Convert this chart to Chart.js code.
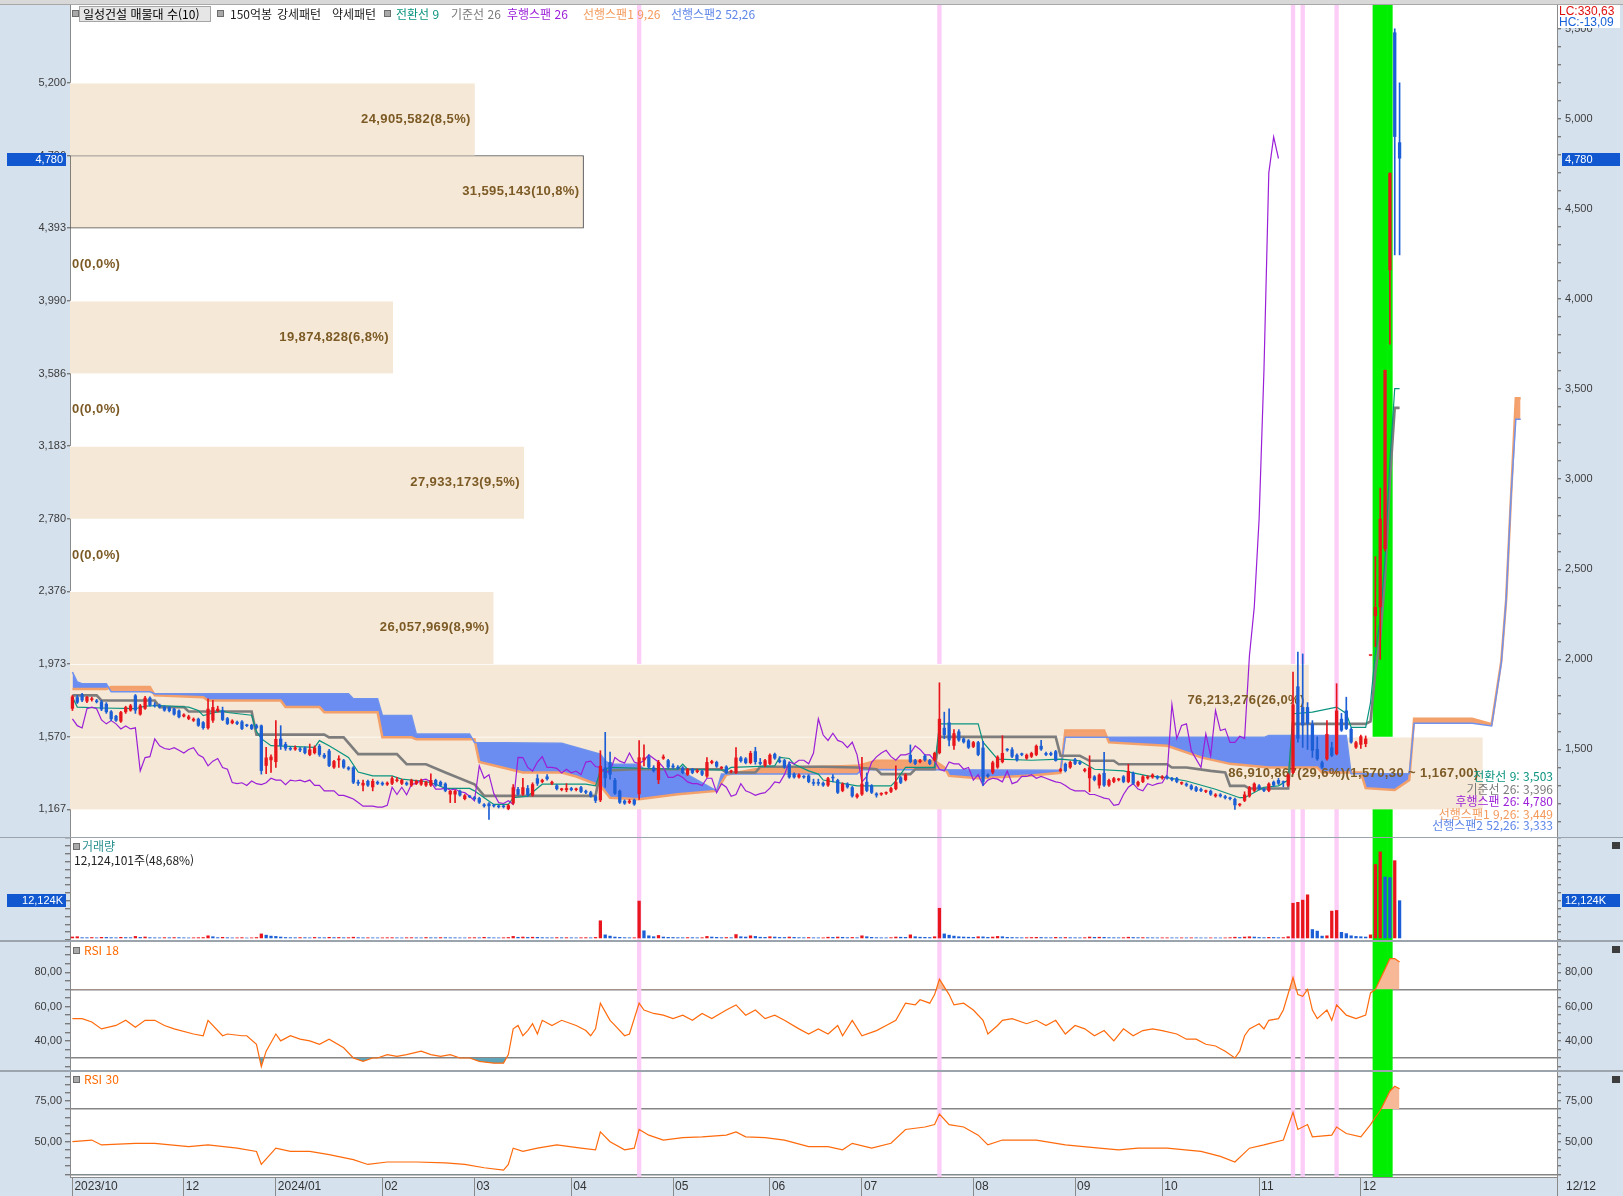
<!DOCTYPE html>
<html lang="ko">
<head>
<meta charset="utf-8">
<title>일성건설 매물대 · 일목균형표</title>
<script src="https://cdn.jsdelivr.net/npm/chart.js@4.4.1/dist/chart.umd.min.js"></script>
<style>
  html, body { margin: 0; padding: 0; overflow: hidden; background: #9ba3ac; }
  #wrap { position: relative; width: 1623px; height: 1196px; background: #9ba3ac; }
  #wrap canvas { position: absolute; left: 0; background: #d6e1ee; }
  .t { position: absolute; white-space: nowrap; font: 12px 'Noto Sans CJK KR', 'Noto Sans', sans-serif; line-height: 14px; }
  .mk { position: absolute; width: 5px; height: 5px; background: #a9a9a9; border: 1px solid #6d6d6d; }
  .ico { position: absolute; width: 8px; height: 7px; background: #3d3d3d; }
  .num { font-family: 'Liberation Sans', Arial, sans-serif; }
</style>
</head>
<body>
<div id="wrap">
  <div style="position:absolute;left:0;top:0;width:1623px;height:4px;background:#d8d8d8;border-bottom:1px solid #a8a8a8"></div>
  <canvas id="cMain" width="1623" height="832" style="top:5px"></canvas>
  <canvas id="cVol" width="1623" height="102" style="top:838px"></canvas>
  <canvas id="cRsi18" width="1623" height="128" style="top:942px"></canvas>
  <canvas id="cRsi30" width="1623" height="124" style="top:1072px"></canvas>

  <!-- top legend -->
  <div class="mk" style="left:72px;top:10px"></div>
  <div class="t" style="left:79px;top:6px;width:127px;height:14px;padding-left:3px;background:#e6e6e6;border:1px solid #a5a5a5">일성건설 매물대 수(10)</div>
  <div class="mk" style="left:217px;top:10px"></div>
  <div class="t" style="left:230px;top:7px;color:#222">150억봉</div>
  <div class="t" style="left:277px;top:7px;color:#222">강세패턴</div>
  <div class="t" style="left:332px;top:7px;color:#222">약세패턴</div>
  <div class="mk" style="left:384px;top:10px"></div>
  <div class="t" style="left:396px;top:7px;color:#0a9480">전환선 9</div>
  <div class="t" style="left:451px;top:7px;color:#7a7a7a">기준선 26</div>
  <div class="t" style="left:507px;top:7px;color:#9b1fd8">후행스팬 26</div>
  <div class="t" style="left:583px;top:7px;color:#f39a5c">선행스팬1 9,26</div>
  <div class="t" style="left:671px;top:7px;color:#5e86e8">선행스팬2 52,26</div>

  <div style="position:absolute;left:1558px;top:5px;width:62px;height:23px;background:#fff"></div>
  <div class="t num" style="left:1559px;top:5px;color:#e01010;line-height:12px">LC:330,63</div>
  <div class="t num" style="left:1559px;top:16px;color:#1560d8;line-height:12px">HC:-13,09</div>

  <!-- ichimoku values, bottom right of price pane -->
  <div class="t" id="lbConv" style="right:70px;top:769px;color:#0a9480;text-align:right"></div>
  <div class="t" id="lbBase" style="right:70px;top:782px;color:#7a7a7a;text-align:right"></div>
  <div class="t" id="lbLag" style="right:70px;top:794px;color:#9b1fd8;text-align:right"></div>
  <div class="t" id="lbSpan1" style="right:70px;top:807px;color:#f39a5c;text-align:right"></div>
  <div class="t" id="lbSpan2" style="right:70px;top:818px;color:#5e86e8;text-align:right"></div>

  <!-- sub pane titles -->
  <div class="mk" style="left:73px;top:843px"></div>
  <div class="t" style="left:82px;top:839px;color:#2b9090">거래량</div>
  <div class="t" style="left:74px;top:853px;color:#222">12,124,101주(48,68%)</div>
  <div class="mk" style="left:73px;top:947px"></div>
  <div class="t" style="left:84px;top:943px;color:#ff6a00">RSI 18</div>
  <div class="mk" style="left:73px;top:1076px"></div>
  <div class="t" style="left:84px;top:1072px;color:#ff6a00">RSI 30</div>

  <div class="ico" style="left:1612px;top:842px"></div>
  <div class="ico" style="left:1612px;top:946px"></div>
  <div class="ico" style="left:1612px;top:1076px"></div>

  <div style="position:absolute;left:1557px;top:1177px;width:1px;height:19px;background:#8a8a8a"></div>
  <div class="t num" style="left:1566px;top:1179px;color:#333">12/12</div>
</div>

<script>
'use strict';

// ---- categories / ticks -------------------------------------------------
const SLOTS = 307;   // 275 trading days + 32 slots of forward space
const monthIdx = [0, 23, 42, 64, 83, 103, 124, 144, 163, 186, 207, 225, 245, 266];
const monthLabels = ['2023/10', '12', '2024/01', '02', '03', '04', '05', '06', '07', '08', '09', '10', '11', '12'];

// ---- daily candles ------------------------------------------------------
const open = [
  1726,1790,1806,1766,1775,1772,1766,1753,1711,1686, 1655,1707,1716,1800,1694,1726,1787,1746,1748,1738,
  1735,1726,1716,1683,1670,1660,1670,1651,1618,1660, 1713,1716,1673,1646,1653,1655,1636,1636,1633,1633,
  1409,1440,1430,1560,1530,1505,1500,1505,1510,1470, 1480,1520,1470,1493,1400,1440,1440,1400,1400,1320,
  1300,1325,1290,1320,1315,1305,1310,1325,1310,1315, 1300,1310,1305,1300,1300,1330,1320,1310,1250,1250,
  1270,1225,1240,1235,1230,1195,1200,1190,1185,1185, 1170,1200,1280,1250,1285,1245,1340,1320,1350,1310,
  1300,1275,1275,1285,1275,1290,1270,1262,1240,1218, 1400,1430,1330,1270,1215,1205,1220,1251,1440,1460,
  1400,1330,1450,1440,1410,1400,1400,1360,1390,1375, 1380,1350,1425,1430,1395,1405,1375,1370,1455,1450,
  1425,1490,1430,1410,1420,1475,1440,1440,1420,1365, 1345,1350,1355,1315,1315,1315,1300,1345,1330,1270,
  1310,1290,1235,1250,1320,1300,1255,1250,1255,1265, 1280,1345,1330,1470,1440,1430,1465,1440,1440,1480,
  1620,1650,1520,1600,1560,1550,1515,1540,1510,1360, 1372,1400,1430,1500,1500,1470,1475,1450,1460,1470,
  1520,1480,1480,1490,1380,1420,1400,1445,1430,1380, 1340,1350,1300,1370,1300,1320,1330,1350,1320,1370,
  1300,1320,1340,1345,1350,1340,1350,1340,1340,1310, 1310,1300,1290,1280,1265,1270,1240,1250,1240,1230,
  1225,1190,1215,1240,1270,1300,1280,1270,1320,1330, 1320,1300,1370,1850,1735,1735,1642,1502,1428,1446,
  1511,1474,1670,1716,1614,1511,1526,1530,2020,2240, 2290,2613,4160,5480,4870
];
const high = [
  1800,1800,1812,1795,1790,1778,1772,1760,1716,1690, 1712,1740,1750,1805,1750,1795,1792,1760,1752,1742,
  1738,1730,1720,1698,1690,1675,1674,1655,1781,1772, 1740,1735,1678,1665,1658,1660,1640,1640,1640,1636,
  1512,1470,1660,1632,1540,1515,1520,1512,1515,1530, 1520,1528,1478,1500,1440,1465,1445,1405,1405,1330,
  1330,1330,1335,1325,1320,1320,1350,1345,1335,1320, 1335,1330,1335,1325,1365,1335,1325,1315,1272,1275,
  1275,1250,1245,1240,1235,1200,1205,1195,1190,1190, 1195,1305,1290,1340,1300,1315,1360,1335,1360,1325,
  1305,1285,1310,1290,1285,1295,1275,1268,1245,1493, 1595,1485,1340,1275,1220,1222,1225,1549,1526,1470,
  1410,1440,1470,1445,1420,1410,1405,1395,1395,1390, 1385,1455,1440,1435,1405,1410,1385,1511,1460,1455,
  1490,1512,1450,1445,1475,1480,1460,1445,1430,1370, 1365,1355,1360,1335,1335,1320,1345,1360,1335,1315,
  1315,1295,1255,1456,1370,1305,1260,1260,1265,1290, 1409,1350,1365,1525,1445,1445,1470,1445,1485,1870,
  1707,1725,1610,1610,1565,1555,1545,1545,1545,1365, 1435,1465,1576,1505,1510,1475,1480,1475,1485,1525,
  1550,1485,1485,1495,1395,1425,1435,1450,1435,1395, 1465,1355,1365,1484,1335,1345,1340,1355,1418,1375,
  1325,1355,1355,1365,1355,1355,1355,1345,1345,1320, 1315,1305,1295,1285,1275,1275,1255,1255,1245,1235,
  1230,1200,1265,1295,1315,1305,1285,1315,1325,1340, 1325,1365,1930,2040,2030,1760,1660,1570,1435,1660,
  1540,1865,1700,1790,1620,1545,1580,1575,2020,2570, 2950,3606,4700,5500,5200
];
const low = [
  1716,1755,1765,1760,1768,1758,1715,1700,1660,1655, 1650,1700,1712,1700,1690,1722,1740,1735,1730,1712,
  1708,1690,1675,1680,1665,1655,1628,1612,1612,1650, 1708,1660,1638,1642,1638,1610,1626,1610,1615,1363,
  1366,1372,1400,1500,1495,1495,1495,1488,1475,1465, 1475,1462,1450,1405,1395,1400,1395,1385,1310,1300,
  1270,1295,1270,1305,1300,1300,1305,1320,1305,1300, 1295,1305,1300,1295,1295,1295,1295,1265,1205,1205,
  1240,1220,1232,1220,1200,1180,1111,1180,1175,1175, 1165,1195,1245,1245,1240,1240,1300,1315,1330,1305,
  1275,1270,1265,1270,1270,1260,1255,1235,1205,1210, 1290,1335,1250,1200,1195,1200,1190,1223,1409,1395,
  1375,1310,1445,1395,1395,1390,1365,1355,1365,1370, 1355,1345,1420,1400,1390,1365,1370,1365,1430,1420,
  1420,1418,1415,1405,1415,1445,1425,1395,1340,1340, 1340,1340,1315,1300,1300,1295,1295,1320,1255,1265,
  1285,1235,1230,1245,1265,1255,1235,1245,1250,1260, 1275,1310,1325,1425,1415,1425,1435,1415,1435,1475,
  1560,1520,1500,1545,1535,1505,1510,1465,1300,1345, 1365,1395,1425,1490,1455,1435,1465,1445,1455,1465,
  1495,1465,1465,1435,1375,1375,1395,1415,1415,1375, 1265,1325,1285,1295,1295,1315,1325,1315,1315,1305,
  1295,1315,1335,1340,1335,1335,1335,1325,1315,1305, 1295,1275,1265,1265,1260,1245,1235,1235,1225,1220,
  1167,1185,1210,1235,1265,1275,1265,1265,1295,1305, 1292,1295,1365,1540,1511,1500,1456,1440,1395,1440,
  1460,1470,1600,1610,1535,1506,1506,1515,2020,2070, 2000,2600,3750,4245,4245
];
const close = [
  1794,1760,1772,1791,1781,1763,1722,1707,1668,1660, 1707,1735,1744,1716,1744,1787,1744,1740,1735,1716,
  1713,1694,1679,1694,1683,1670,1632,1619,1726,1735, 1726,1664,1642,1660,1642,1614,1630,1614,1620,1381,
  1455,1460,1558,1520,1505,1500,1510,1495,1480,1500, 1510,1470,1455,1409,1435,1450,1400,1390,1316,1310,
  1315,1300,1325,1310,1305,1315,1340,1330,1330,1305, 1330,1325,1330,1320,1330,1300,1300,1270,1270,1270,
  1245,1245,1235,1225,1205,1185,1185,1185,1180,1180, 1190,1290,1250,1290,1248,1307,1310,1330,1335,1320,
  1280,1280,1285,1275,1280,1265,1260,1240,1215,1409, 1340,1360,1255,1205,1200,1215,1195,1456,1455,1400,
  1380,1430,1460,1400,1400,1395,1370,1390,1370,1380, 1360,1430,1435,1405,1400,1370,1380,1455,1435,1425,
  1480,1430,1420,1440,1470,1450,1430,1400,1345,1345, 1360,1345,1320,1310,1310,1300,1340,1340,1260,1310,
  1290,1240,1250,1310,1270,1260,1245,1255,1260,1285, 1320,1315,1360,1430,1420,1440,1440,1420,1480,1670,
  1580,1550,1590,1550,1540,1510,1540,1470,1320,1350, 1428,1459,1480,1495,1460,1440,1470,1470,1480,1520,
  1500,1470,1470,1437,1390,1380,1430,1420,1420,1390, 1400,1330,1360,1300,1330,1340,1335,1320,1380,1310,
  1320,1350,1350,1360,1340,1350,1340,1330,1320,1315, 1300,1280,1270,1270,1270,1250,1250,1240,1230,1225,
  1190,1195,1250,1290,1310,1280,1270,1310,1300,1310, 1315,1360,1750,1560,1633,1642,1493,1446,1400,1586,
  1465,1716,1605,1614,1539,1539,1573,1560,2020,2290, 2780,3606,4700,4900,4780
];

// volume in thousands of shares
const volumeK = [
  520,610,300,280,350,240,410,380,300,260, 420,330,290,700,380,520,300,260,240,310,
  280,330,300,250,220,260,300,340,900,600, 300,420,280,230,250,310,200,240,350,1500,
  1100,800,700,500,350,300,280,330,300,250, 380,300,280,420,320,360,280,300,450,300,
  260,280,240,230,250,280,300,250,230,280, 300,260,240,350,280,260,330,300,270,260,
  240,230,280,300,260,420,300,250,230,280, 350,700,420,500,380,450,400,300,280,260,
  320,280,300,260,240,280,300,250,380,5700, 1200,800,500,400,300,260,280,12000,2500,900,
  600,1000,500,400,350,300,280,320,300,260, 280,700,500,400,300,350,280,1300,600,500,
  900,700,450,400,600,500,380,350,500,400, 300,280,350,260,240,250,450,400,500,420,
  300,380,280,900,600,400,300,260,250,300, 500,450,400,1200,600,450,400,350,600,9700,
  1500,1100,800,600,500,450,400,600,550,400, 500,700,600,400,350,300,280,300,350,400,
  350,300,280,400,300,350,300,280,260,300, 500,400,450,400,300,280,260,300,450,350,
  300,320,280,260,240,250,260,240,230,250, 240,260,250,230,220,240,230,220,240,300,
  450,350,500,600,500,350,300,400,350,300, 320,600,11300,11600,12300,14000,2900,2400,800,900,
  8800,9000,2000,1600,900,700,600,500,1200,23700, 27700,19700,19500,24906,12124
];

// ---- ichimoku lines, read as [bar, price] vertices ----------------------
const convLine = [[0,1791],[1,1735],[6,1730],[13,1726],[15,1740],[18,1744],[24,1735],[26,1716],[27,1688],[31,1716],
  [32,1705],[37,1690],[38,1600],[39,1560],[41,1521],[50,1512],[51,1549],[53,1520],[57,1456],[59,1375],[62,1353],
  [66,1353],[68,1335],[73,1322],[75,1307],[77,1284],[82,1284],[83,1270],[85,1232],[87,1195],[90,1195],[91,1232],
  [94,1240],[97,1307],[106,1307],[108,1298],[109,1381],[111,1400],[125,1390],[126,1418],[127,1390],[135,1385],
  [136,1400],[145,1409],[146,1456],[148,1450],[149,1418],[152,1381],[154,1363],[155,1330],[162,1298],[169,1298],
  [170,1325],[172,1400],[178,1400],[179,1642],[187,1642],[188,1540],[191,1446],[198,1440],[204,1446],[208,1437],
  [211,1390],[217,1381],[222,1353],[226,1344],[230,1325],[236,1279],[241,1232],[242,1232],[246,1290],[249,1298],
  [251,1330],[252,1698],[256,1707],[261,1735],[263,1700],[264,1623],[267,1623],[268,1760],[269,2038],[270,2225],
  [271,2556],[272,3103],[273,3503],[274,3503]];
const baseLine = [[0,1800],[5,1800],[6,1772],[17,1772],[18,1735],[23,1735],[24,1711],[37,1711],[38,1582],[52,1582],
  [53,1567],[56,1567],[59,1474],[67,1474],[69,1418],[73,1418],[77,1372],[83,1307],[85,1242],[108,1242],[109,1381],
  [116,1390],[134,1390],[135,1372],[141,1372],[142,1404],[155,1404],[162,1400],[166,1390],[167,1363],[173,1363],
  [174,1390],[178,1390],[179,1570],[203,1570],[204,1465],[208,1465],[210,1437],[215,1437],[216,1418],[226,1418],
  [227,1400],[230,1400],[235,1381],[238,1372],[239,1298],[242,1298],[243,1283],[251,1283],[252,1642],[267,1642],
  [268,1656],[269,1931],[270,2121],[271,2449],[272,2996],[273,3396],[274,3396]];
const span1 = [[0,1835],[7,1835],[8,1846],[16,1846],[17,1800],[27,1790],[28,1772],[43,1772],[44,1735],[51,1735],
  [52,1707],[63,1707],[64,1567],[70,1567],[71,1556],[83,1556],[84,1430],[93,1372],[101,1372],[104,1350],[109,1298],
  [111,1232],[117,1223],[125,1251],[133,1270],[135,1360],[141,1390],[150,1400],[162,1409],[166,1437],[178,1437],
  [180,1400],[181,1353],[187,1340],[198,1355],[204,1370],[205,1605],[213,1605],[214,1539],[226,1520],[233,1456],
  [239,1420],[247,1400],[257,1400],[258,1372],[266,1372],[267,1285],[273,1275],[276,1330],[277,1670],[289,1670],
  [293,1640],[295,1990],[296,2330],[297,2900],[298,3449],[299,3449]];
const span2 = [[0,1930],[1,1874],[2,1865],[7,1865],[8,1820],[16,1820],[17,1809],[57,1809],[58,1781],[63,1781],
  [64,1688],[70,1688],[71,1586],[82,1586],[83,1539],[101,1534],[109,1474],[110,1437],[111,1418],[117,1418],
  [118,1390],[125,1390],[133,1270],[134,1363],[162,1363],[163,1388],[204,1385],[205,1567],[246,1567],[247,1577],
  [263,1577],[264,1365],[276,1365],[277,1645],[289,1645],[293,1630],[295,1980],[296,2330],[297,2900],[298,3333],
  [299,3333]];
const LAG = 25;

// ---- volume profile (10 price bands) ------------------------------------
const profileEdges = [1167, 1570.3, 1973.6, 2376.9, 2780.2, 3183.5, 3586.8, 3990.1, 4393.4, 4796.7, 5200];
const profileVol = [86910867, 76213276, 26057969, 0, 27933173, 0, 19874828, 0, 31595143, 24905582];

// ---- signal bars --------------------------------------------------------
const pinkIdx = [117, 179, 252, 254, 261];
const greenIdx = [269, 270, 271, 272];

// ---- RSI, read as [bar, value] ------------------------------------------
const rsi18 = [[0,53],[2,53],[4,51],[6,47],[9,49],[11,52],[13,48],[15,52],[17,52],[19,49],[21,47],[25,44],[27,43],
  [28,52],[31,43],[32,44],[35,43],[36,43],[38,38],[39,25],[40,34],[42,44],[43,40],[45,43],[47,41],[49,40],[51,38],
  [53,41],[56,36],[58,30],[60,28],[62,30],[63,30],[65,32],[67,31],[69,32],[72,34],[74,32],[76,31],[78,32],[80,30],
  [82,30],[84,28],[87,27],[89,27],[90,32],[91,47],[92,49],[93,43],[94,46],[95,50],[96,44],[97,52],[99,49],[101,52],
  [104,49],[106,46],[107,43],[108,47],[109,62],[111,52],[112,49],[114,43],[115,44],[117,62],[118,58],[120,56],
  [122,55],[124,53],[126,55],[128,52],[130,56],[132,53],[135,58],[137,61],[139,55],[141,58],[143,53],[145,55],
  [147,52],[150,47],[152,44],[154,47],[156,44],[158,49],[159,43],[161,52],[163,43],[166,46],[168,49],[170,52],
  [172,62],[174,61],[175,64],[177,62],[178,67],[179,76],[181,67],[182,61],[184,62],[186,58],[188,52],[189,44],
  [191,49],[192,52],[194,53],[197,50],[199,52],[201,49],[203,52],[205,44],[207,49],[209,47],[211,43],[213,46],
  [215,40],[217,47],[219,43],[221,46],[223,47],[225,46],[228,44],[230,41],[232,41],[234,38],[236,37],[238,34],
  [240,30],[241,34],[242,43],[243,47],[245,50],[246,47],[247,52],[249,53],[250,58],[252,77],[253,67],[254,66],
  [255,70],[256,58],[257,53],[259,58],[260,52],[261,61],[262,58],[263,55],[265,53],[267,55],[268,68],[269,70],
  [270,76],[271,82],[272,88],[273,88],[274,86]];
const rsi30 = [[0,50],[4,51],[6,48],[13,49],[17,49],[24,47],[28,48],[34,46],[38,44],[39,36],[42,46],[45,44],[49,44],
  [53,42],[58,39],[61,36],[65,37.5],[71,37.5],[77,37],[81,36],[85,34],[89,32.5],[90,36],[91,46],[93,44],[96,46],
  [100,48],[105,46],[108,45],[109,56],[111,50],[114,45],[116,46],[117,57.5],[119,54],[122,51],[126,52.5],[130,53],
  [135,54],[137,56],[139,53],[143,52.5],[147,51],[152,47],[156,47],[159,45],[161,49],[165,46],[169,49],[172,57.5],
  [176,59],[178,60.5],[179,67],[181,60.5],[184,59],[187,54],[189,48],[192,51],[199,51],[205,48],[212,46],[216,45],
  [220,46],[226,46],[233,44],[237,41],[240,37.5],[243,46],[246,48],[250,51],[252,68],[253,57.5],[255,60.5],[256,53],
  [260,54],[261,59],[263,55],[266,53],[268,60.5],[269,65],[270,69],[271,75],[272,81],[273,84],[274,82.5]];

// ---- styling --------------------------------------------------------------
const RED = '#e8151c', BLUE = '#1b5ed5', PINK = '#fccdf7', GREEN = '#00ee00', BEIGE = '#f5e8d6';
const C_CONV = '#0a9480', C_BASE = '#7d7d7d', C_LAG = '#9b1fd8', C_SPAN1 = '#f4a06a', C_SPAN2 = '#6f92ee';
const AXIS_FONT = "'Liberation Sans', Arial, sans-serif";
Chart.defaults.font.family = AXIS_FONT;
Chart.defaults.font.size = 11;
Chart.defaults.color = '#3b3b3b';

const P_MIN = 1014, P_MAX = 5632;
const V_MIN = -550, V_MAX = 32050;
const R18_MIN = 23, R18_MAX = 97.7;
const R30_MIN = 28.3, R30_MAX = 92.8;
const PROFILE_SPAN = 0.95;   // share of the plot width taken by the largest band

const pts = list => list.map(([x, y]) => ({x, y}));
const sigData = (idx, lo, hi) => idx.map(i => ({x: i, y: [lo, hi]}));
const thousands = v => Math.round(v).toLocaleString('en-US');
const dec = (v, d) => {
    const [a, b] = v.toFixed(d).split('.');
    return Number(a).toLocaleString('en-US') + (b ? ',' + b : '');
};
const upColor = (i) => close[i] >= open[i] ? RED : BLUE;

const lastBar = close.length - 1;
const lastClose = close[lastBar];
const profTotal = profileVol.reduce((a, b) => a + b, 0);
const pocBand = profileVol.indexOf(Math.max(...profileVol));
const curBand = profileVol.findIndex((v, k) => lastClose >= profileEdges[k] && lastClose < profileEdges[k + 1]);

// ---- plugins --------------------------------------------------------------
const plotBg = {
    id: 'plotBg',
    beforeDraw(chart) {
        const a = chart.chartArea, ctx = chart.ctx;
        ctx.save();
        ctx.fillStyle = '#fff';
        ctx.fillRect(a.left, a.top, a.right - a.left, a.bottom - a.top);
        ctx.restore();
    }
};

function valueBox(value, text) {
    return {
        id: 'valueBox',
        afterDraw(chart) {
            const ctx = chart.ctx, a = chart.chartArea;
            const y = Math.round(chart.scales.y.getPixelForValue(value));
            ctx.save();
            ctx.fillStyle = '#1158d0';
            ctx.fillRect(7, y - 6, 59, 13);
            ctx.fillRect(a.right + 5, y - 6, 58, 13);
            ctx.fillStyle = '#fff';
            ctx.font = '11px ' + AXIS_FONT;
            ctx.textBaseline = 'middle';
            ctx.textAlign = 'right';
            ctx.fillText(text, 63, y + 1);
            ctx.textAlign = 'left';
            ctx.fillText(text, a.right + 8, y + 1);
            ctx.restore();
        }
    };
}

const WICK_INDEX = 8;
const profileLabels = {
    id: 'profileLabels',
    beforeDatasetDraw(chart, args) {
        if (args.index !== WICK_INDEX) return;
        const ctx = chart.ctx, xv = chart.scales.xv, yv = chart.scales.yv;
        ctx.save();
        ctx.font = 'bold 13px ' + AXIS_FONT;
        ctx.letterSpacing = '0.4px';
        ctx.fillStyle = '#7c5a25';
        ctx.textBaseline = 'middle';
        profileVol.forEach((v, k) => {
            const y = yv.getPixelForValue((profileEdges[k] + profileEdges[k + 1]) / 2);
            if (v > 0) {
                let txt = `${thousands(v)}(${dec(v / profTotal * 100, 1)}%)`;
                if (k === pocBand) txt += `(${dec(profileEdges[k + 1], 2)} ~ ${dec(profileEdges[k], 2)})`;
                ctx.textAlign = 'right';
                ctx.fillText(txt, xv.getPixelForValue(v) - 4, y);
            } else {
                ctx.textAlign = 'left';
                ctx.fillText('0(0,0%)', chart.chartArea.left + 2, y);
            }
        });
        ctx.restore();
    }
};

// ---- scales ---------------------------------------------------------------
const fitWidth = w => s => { s.width = w; s.paddingTop = 0; s.paddingBottom = 0; };

function xScale(show) {
    return {
        type: 'linear', min: -0.5, max: SLOTS - 0.5, offset: false, display: show,
        border: {color: '#8a8a8a'},
        grid: {drawOnChartArea: false, offset: false, tickLength: 19, color: '#8a8a8a'},
        ticks: {
            autoSkip: false, maxRotation: 0, align: 'start', padding: -17, labelOffset: 2,
            color: '#333', font: {size: 12},
            callback: v => { const k = monthIdx.indexOf(v); return k < 0 ? '' : monthLabels[k]; }
        },
        afterBuildTicks: s => { s.ticks = monthIdx.map(v => ({value: v})); },
        afterFit: s => {
            s.height = show ? 19 : 0;
            s.paddingLeft = 0;
            s.paddingRight = 0;
        }
    };
}

// invisible helper axis used only to map profile bars (kept in the layout with zero size)
function helperScale(axis, min, max, ticks) {
    return {
        type: 'linear', axis, position: axis === 'x' ? 'bottom' : 'left', min, max,
        offset: false, display: true,
        grid: {display: false, offset: false, drawTicks: false},
        border: {display: false},
        ticks: {display: false},
        afterBuildTicks: ticks ? (s => { s.ticks = ticks.map(v => ({value: v})); }) : undefined,
        afterFit: s => {
            if (axis === 'x') s.height = 0; else s.width = 0;
            s.paddingLeft = s.paddingRight = s.paddingTop = s.paddingBottom = 0;
        }
    };
}

function sideScale(position, min, max, step, label, guide) {
    const left = position === 'left';
    return {
        type: 'linear', position, min, max,
        border: {color: '#8a8a8a'},
        grid: {
            drawOnChartArea: left && !!guide,
            tickLength: left ? 5 : 4,
            tickColor: '#7a7a7a',
            color: c => guide && c.tick && guide.includes(c.tick.value) ? '#858585' : 'rgba(0,0,0,0)',
            lineWidth: 1.4
        },
        ticks: {stepSize: step, autoSkip: false, includeBounds: false, padding: left ? 3 : 4, callback: label},
        afterFit: fitWidth(left ? 70 : 66)
    };
}

function signalSets(lo, hi) {
    return [
        {type: 'bar', data: sigData(pinkIdx, lo, hi), backgroundColor: PINK, grouped: false,
            barPercentage: 0.9, categoryPercentage: 1, xAxisID: 'x', yAxisID: 'y', order: 30},
        {type: 'bar', data: sigData(greenIdx, lo, hi), backgroundColor: GREEN, grouped: false,
            barPercentage: 1, categoryPercentage: 1, xAxisID: 'x', yAxisID: 'y', order: 29}
    ];
}

function baseOptions(showX) {
    return {
        responsive: false, animation: false, events: [],
        layout: {padding: 0},
        plugins: {legend: {display: false}, tooltip: {enabled: false}},
        scales: {x: xScale(showX)}
    };
}

// ---- price pane -------------------------------------------------------------
function renderMain() {
    const bars = close.map((c, i) => i);
    const options = baseOptions(false);
    const mainLeft = sideScale('left', P_MIN, P_MAX, undefined, v => thousands(Math.floor(v)));
    mainLeft.afterBuildTicks = s => { s.ticks = profileEdges.map(v => ({value: v})); };
    mainLeft.grid.tickLength = 3;
    mainLeft.ticks.padding = 1;
    options.scales.y = mainLeft;
    options.scales.y2 = sideScale('right', P_MIN, P_MAX, 100, v => v % 500 === 0 ? thousands(v) : '');
    options.scales.xv = helperScale('x', 0, Math.max(...profileVol) / PROFILE_SPAN);
    options.scales.yv = helperScale('y', P_MIN, P_MAX, profileEdges);

    const line = (data, color, width, order, extra) => Object.assign({
        type: 'line', data, borderColor: color, borderWidth: width, pointRadius: 0,
        fill: false, xAxisID: 'x', yAxisID: 'y', order
    }, extra || {});

    const datasets = [
        ...signalSets(P_MIN, P_MAX),
        {
            type: 'bar', indexAxis: 'y', xAxisID: 'xv', yAxisID: 'yv', grouped: false,
            data: profileVol.map((v, k) => ({x: v, y: (profileEdges[k] + profileEdges[k + 1]) / 2})),
            backgroundColor: BEIGE,
            borderColor: c => c.dataIndex === curBand ? '#4a4a4a' : '#ffffff',
            borderWidth: c => c.dataIndex === curBand ? 1 : {top: 1, right: 0, bottom: 0, left: 0},
            borderSkipped: false, barPercentage: 1, categoryPercentage: 1, order: 25
        },
        line(pts(span1), C_SPAN1, 2.5, 10, {fill: {target: '+1', above: '#f5a272', below: '#6b8cf0'}}),
        line(pts(span2), C_SPAN2, 1.5, 9),
        line(pts(baseLine), C_BASE, 2.6, 5),
        line(pts(convLine), C_CONV, 1.2, 4),
        line(close.slice(LAG).map((c, k) => ({x: k, y: c})), C_LAG, 1.2, 3),
        {
            type: 'bar', data: bars.map(i => ({x: i, y: [low[i], high[i]]})),
            backgroundColor: c => upColor(c.dataIndex), barThickness: 1, grouped: false,
            xAxisID: 'x', yAxisID: 'y', order: 2
        },
        {
            type: 'bar', data: bars.map(i => ({x: i, y: [open[i], close[i]]})),
            backgroundColor: c => upColor(c.dataIndex), grouped: false, minBarLength: 1.5,
            barPercentage: 1, categoryPercentage: 0.68, xAxisID: 'x', yAxisID: 'y', order: 1
        }
    ];

    window.ChartMain = new Chart(document.getElementById('cMain'), {
        type: 'bar', data: {datasets}, options,
        plugins: [plotBg, profileLabels, valueBox(lastClose, thousands(lastClose))]
    });
}

// ---- volume pane --------------------------------------------------------------
function renderVolume() {
    const options = baseOptions(false);
    const volLabel = v => v > 0 && v % 10000 === 0 ? thousands(v) + 'K' : '';
    options.scales.y = sideScale('left', V_MIN, V_MAX, 2500, volLabel);
    options.scales.y2 = sideScale('right', V_MIN, V_MAX, 2500, volLabel);
    const datasets = [
        ...signalSets(V_MIN, V_MAX),
        {
            type: 'bar', data: volumeK.map((v, i) => ({x: i, y: v})),
            backgroundColor: c => c.dataIndex > 0 && volumeK[c.dataIndex] < volumeK[c.dataIndex - 1] ? BLUE : RED,
            grouped: false, barPercentage: 1, categoryPercentage: 0.68, xAxisID: 'x', yAxisID: 'y', order: 1
        }
    ];
    const last = volumeK[volumeK.length - 1];
    window.ChartVolume = new Chart(document.getElementById('cVol'), {
        type: 'bar', data: {datasets}, options,
        plugins: [plotBg, valueBox(last, thousands(last) + 'K')]
    });
}

// ---- RSI panes ----------------------------------------------------------------
function renderRsi(canvasId, series, min, max, labelled, showX) {
    const options = baseOptions(showX);
    const label = v => labelled.includes(v) ? dec(v, 2) : '';
    options.scales.y = sideScale('left', min, max, 5, label, [70, 30]);
    options.scales.y2 = sideScale('right', min, max, 5, label);
    const datasets = [
        ...signalSets(min, max),
        {type: 'line', data: pts(series), borderColor: '#ff6a0c', borderWidth: 1.2, pointRadius: 0,
            fill: {target: {value: 70}, above: '#f7b898', below: 'rgba(0,0,0,0)'}, xAxisID: 'x', yAxisID: 'y', order: 2},
        {type: 'line', data: pts(series), borderWidth: 0, pointRadius: 0,
            fill: {target: {value: 30}, above: 'rgba(0,0,0,0)', below: '#5fa4b8'}, xAxisID: 'x', yAxisID: 'y', order: 3}
    ];
    return new Chart(document.getElementById(canvasId), {type: 'bar', data: {datasets}, options, plugins: [plotBg]});
}

function fillIchimokuLabels() {
    const last = list => list[list.length - 1][1];
    document.getElementById('lbConv').textContent = `전환선 9: ${thousands(last(convLine))}`;
    document.getElementById('lbBase').textContent = `기준선 26: ${thousands(last(baseLine))}`;
    document.getElementById('lbLag').textContent = `후행스팬 26: ${thousands(lastClose)}`;
    document.getElementById('lbSpan1').textContent = `선행스팬1 9,26: ${thousands(last(span1))}`;
    document.getElementById('lbSpan2').textContent = `선행스팬2 52,26: ${thousands(last(span2))}`;
}

renderMain();
renderVolume();
window.ChartRsi18 = renderRsi('cRsi18', rsi18, R18_MIN, R18_MAX, [40, 60, 80], false);
window.ChartRsi30 = renderRsi('cRsi30', rsi30, R30_MIN, R30_MAX, [50, 75], true);
fillIchimokuLabels();
</script>
</body>
</html>
